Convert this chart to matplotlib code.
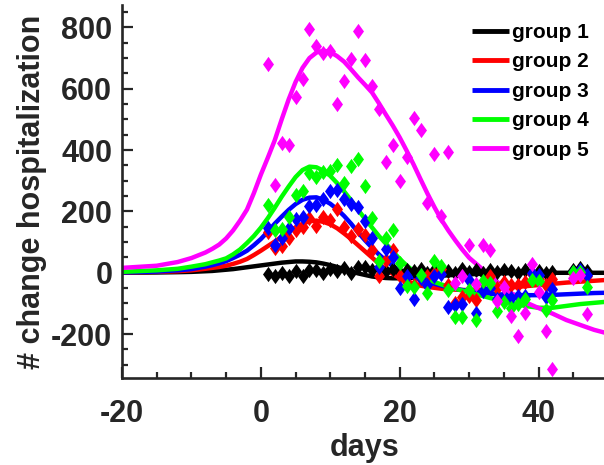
import matplotlib
matplotlib.use("Agg")
import matplotlib.pyplot as plt

# ---------------- data ----------------
curve_days = [-20, -15, -12, -10] + list(range(-8, 31)) + [32, 34, 36, 38, 40, 42, 44, 46, 48, 50]
fit_g1 = [0, 1, 2, 3,
          5, 6, 8, 10, 12, 15, 18, 21, 24, 27, 30, 33, 35, 37, 37, 36, 34, 30, 25, 19, 12, 5,
          -2, -7, -12, -15, -17, -18, -18, -17, -16, -14, -13, -11, -10, -8, -7, -6, -5,
          -3, -2, -1, 0, 0, 0, 0, 0, 0, 0]
fit_g2 = [1, 3, 5, 8,
          13, 16, 19, 23, 29, 36, 45, 58, 72, 87, 102, 118, 135, 148, 160, 168, 170, 166, 158, 145, 128, 110,
          90, 70, 50, 30, 12, -4, -18, -28, -36, -42, -46, -49, -52, -54, -55, -56, -56,
          -55, -52, -48, -44, -40, -36, -32, -29, -26, -23]
fit_g3 = [1, 4, 8, 12,
          20, 25, 31, 38, 48, 59, 72, 90, 110, 134, 160, 183, 205, 224, 238, 245, 246, 238, 225, 207, 185, 160,
          132, 106, 82, 60, 40, 22, 8, -4, -15, -23, -30, -36, -42, -47, -52, -56, -60,
          -66, -70, -72, -73, -73, -72, -70, -68, -66, -65]
fit_g4 = [3, 8, 13, 20,
          28, 34, 40, 47, 60, 76, 97, 120, 147, 178, 212, 248, 281, 312, 335, 346, 344, 333, 316, 292, 265, 236,
          205, 176, 148, 120, 95, 70, 45, 24, 5, -8, -20, -30, -38, -45, -52, -58, -64,
          -76, -88, -99, -108, -114, -114, -108, -102, -98, -94]
fit_g5 = [16, 23, 35, 48,
          66, 78, 92, 112, 138, 170, 206, 260, 320, 375, 432, 500, 565, 622, 668, 700, 718, 724, 720, 706, 688, 663,
          637, 613, 588, 553, 516, 480, 441, 398, 353, 305, 258, 214, 173, 138, 106, 76, 49,
          10, -29, -65, -95, -115, -133, -154, -170, -186, -198]

obs_days = list(range(1, 43)) + [45, 46, 47]
obs_g1 = [-5, -12, 0, -10, 5, -12, 8, 10, 0, 12, 5, 15, 0, 18, 20, 10, 15, 5, 12, 0,
          10, 5, 12, 0, 8, 2, 5, 0, 12, 2, 8, 0, 10, 2, 8, 5, 0, 8, 0, 5,
          0, 2, 10, 15, 5]
obs_g2 = [132, 82, 86, 115, 140, 148, 180, 151, 182, 173, 208, 150, 121, 143, 124, 75, -12, 42, 74, -12,
          -30, -40, -20, -10, -5, 12, -40, -99, -80, -77, -90, -30, -10, -50, -30, -40, -39, -30, -5, -20,
          -40, -20, 0, 5, -10]
obs_g3 = [145, 91, 113, 145, 174, 183, 219, 220, 239, 266, 271, 239, 224, 216, 168, 113, 18, 76, 50, -50,
          -12, -86, -17, -40, -10, -5, -112, -105, -101, -23, -132, -60, -50, -86, -77, -83, -75, -76, -1, -7,
          -80, -53, 4, 10, -7]
obs_g4 = [222, 140, 143, 182, 252, 265, 326, 313, 328, 331, 350, 293, 347, 371, 282, 177, 40, 113, 141, 33,
          -42, -45, -8, -66, 38, 22, -56, -143, -145, -56, -154, -28, -34, -126, -94, -115, -102, -85, -23, -26,
          -122, -89, 4, 2, -45]
obs_g5 = [680, 285, 424, 416, 573, 631, 796, 740, 718, 723, 549, 625, 698, 789, 694, 609, 533, 360, 416, 298,
          377, 505, 464, 228, 388, 184, 393, -32, -12, 92, -38, 89, 73, -92, -47, -140, -205, -131, 30, -64,
          -190, -315, -17, -7, -133]

labels = ["group 1", "group 2", "group 3", "group 4", "group 5"]
colors = ["#000000", "#ff0000", "#0000ff", "#00ff00", "#ff00ff"]
x_ticks = [-20, 0, 20, 40]
y_ticks = [-200, 0, 200, 400, 600, 800]

# ---------------- plot ----------------
plt.rcParams['font.family'] = ['Liberation Sans', 'DejaVu Sans']
plt.rcParams['font.weight'] = 'bold'
plt.rcParams['axes.unicode_minus'] = False

W, H = 604, 465
fig = plt.figure(figsize=(W / 100, H / 100), dpi=100)
ax = fig.add_axes([122 / W, (H - 378) / H, (608 - 122) / W, (378 - 5) / H])

fits = [fit_g1, fit_g2, fit_g3, fit_g4, fit_g5]
obs = [obs_g1, obs_g2, obs_g3, obs_g4, obs_g5]
diamond = [(0, 1), (0.72, 0), (0, -1), (-0.72, 0), (0, 1)]

for f, c, lab in zip(fits, colors, labels):
    ax.plot(curve_days, f, color=c, lw=3.2, label=lab, zorder=2,
            solid_capstyle='butt', solid_joinstyle='round')
for o, c in zip(obs, colors):
    ax.plot(obs_days, o, linestyle='none', marker=diamond, markersize=11,
            markerfacecolor=c, markeredgewidth=0, zorder=3)

ax.set_xlim(-20, 50)
ax.set_ylim(-343, 873)
ax.set_xticks(x_ticks)
ax.set_yticks(y_ticks)
ax.set_xticks(range(-20, 51, 5), minor=True)
ax.set_yticks(range(-300, 851, 50), minor=True)

spc = '#262626'
for s in ['top', 'right']:
    ax.spines[s].set_visible(False)
for s in ['left', 'bottom']:
    ax.spines[s].set_color(spc)
    ax.spines[s].set_linewidth(1.9)

ax.tick_params(which='both', direction='in', color=spc, width=1.6, labelcolor=spc)
ax.tick_params(which='major', length=8)
ax.tick_params(which='minor', length=4.5)
ax.tick_params(axis='x', which='major', pad=15, labelsize=22)
ax.tick_params(axis='y', which='major', pad=7, labelsize=22)
for lbl in ax.get_xticklabels() + ax.get_yticklabels():
    lbl.set_fontweight('bold')

ax.set_xlabel('days', fontsize=22, fontweight='bold', color=spc, labelpad=3)
ax.set_ylabel('# change hospitalization', fontsize=22, fontweight='bold', color=spc, labelpad=3)

leg = ax.legend(loc='upper right', bbox_to_anchor=(589 / W, (H - 23) / H), bbox_transform=fig.transFigure,
                frameon=False, prop={'size': 15, 'weight': 'bold'}, handlelength=1.8,
                handletextpad=0.15, labelspacing=0.5, borderaxespad=0, borderpad=0)
for line in leg.get_lines():
    line.set_linewidth(3.5)

fig.savefig('out.png', dpi=100)
